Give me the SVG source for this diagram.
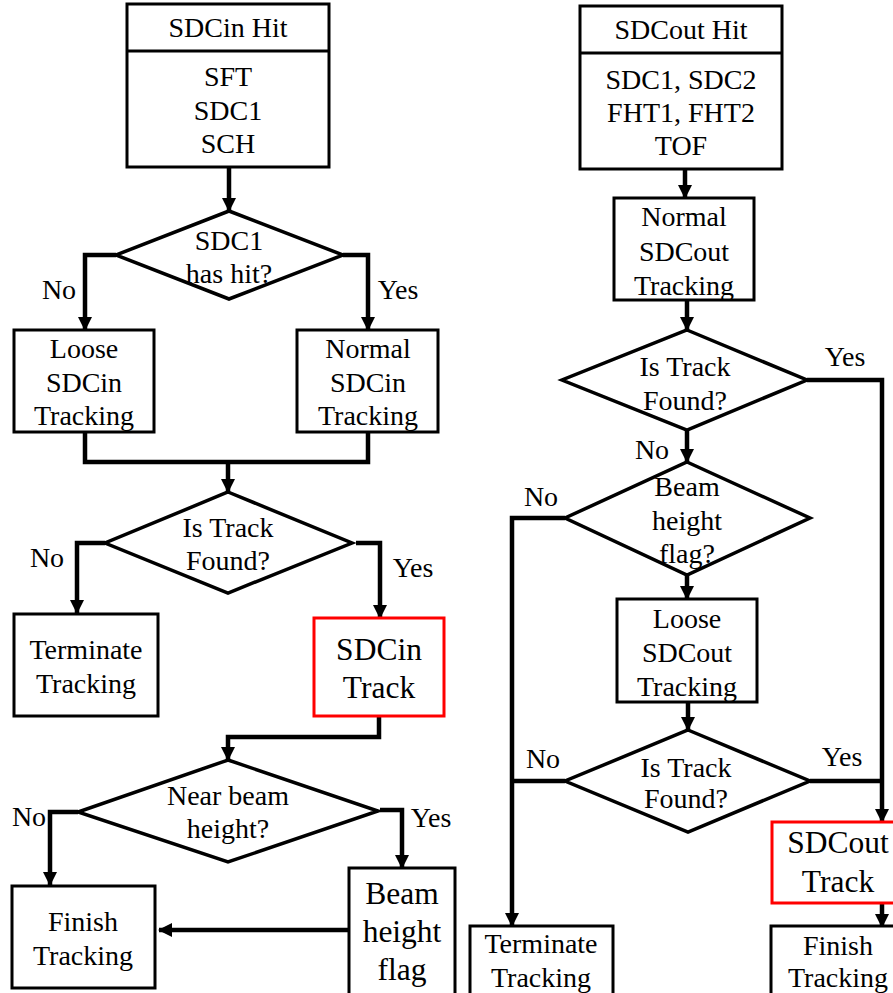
<svg xmlns="http://www.w3.org/2000/svg" width="893" height="993" viewBox="0 0 893 993" font-family="'Liberation Serif', 'Times New Roman', 'DejaVu Serif', serif">
<defs>
<marker id="ah" markerUnits="userSpaceOnUse" markerWidth="14" markerHeight="14" refX="13" refY="7" orient="auto"><path d="M0,0 L14,7 L0,14 z" fill="#000"/></marker>
<style>
.box{fill:#fff;stroke:#000;stroke-width:3}
.red{fill:#fff;stroke:#ff0000;stroke-width:3}
.dia{fill:#fff;stroke:#000;stroke-width:3.5}
.c{fill:none;stroke:#000;stroke-width:4.5}
.a{fill:none;stroke:#000;stroke-width:4.5;marker-end:url(#ah)}
text{font-family:'Liberation Serif','Times New Roman','DejaVu Serif',serif;font-size:28px;fill:#000;text-anchor:middle}
.big{font-size:31.5px}
</style>
</defs>
<rect width="893" height="993" fill="#fff"/>
<g id="connectors">
<path class="a" d="M229,167 L229,211"/>
<path class="a" d="M116,255 L85,255 L85,330"/>
<path class="a" d="M343,255 L368,255 L368,330"/>
<path class="c" d="M85,432 L85,462 L368,462 L368,432"/>
<path class="a" d="M228,462 L228,492"/>
<path class="a" d="M105,543 L77,543 L77,613"/>
<path class="a" d="M356,543 L380,543 L380,618"/>
<path class="a" d="M379,716 L379,737 L228,737 L228,760"/>
<path class="a" d="M78,812 L50,812 L50,885"/>
<path class="a" d="M380,810 L402,810 L402,868"/>
<path class="a" d="M349,930 L159,930"/>
<path class="a" d="M685,169 L685,198"/>
<path class="a" d="M687,300 L687,330"/>
<path class="a" d="M807,380 L882,380 L882,822"/>
<path class="a" d="M687,430 L687,462"/>
<path class="a" d="M565,518 L512,518 L512,926"/>
<path class="a" d="M687,575 L687,599"/>
<path class="a" d="M688,702 L688,730"/>
<path class="c" d="M565,781 L512,781"/>
<path class="c" d="M810,781 L882,781"/>
<path class="a" d="M882,903 L882,927"/>
</g>
<g id="labels">
<text x="59" y="299">No</text>
<text x="398" y="299">Yes</text>
<text x="47" y="567">No</text>
<text x="413" y="577">Yes</text>
<text x="29" y="826">No</text>
<text x="431" y="827">Yes</text>
<text x="845" y="366">Yes</text>
<text x="652" y="459">No</text>
<text x="541" y="506">No</text>
<text x="543" y="768">No</text>
<text x="842" y="766">Yes</text>
</g>
<g id="sdcin-hit">
<rect class="box" x="127" y="4" width="202" height="163"/>
<line x1="127" y1="51" x2="329" y2="51" stroke="#000" stroke-width="3"/>
<text x="228" y="37">SDCin Hit</text>
<text x="228" y="86">SFT</text>
<text x="228" y="120">SDC1</text>
<text x="228" y="153">SCH</text>
</g>
<g id="sdc1-has-hit">
<polygon class="dia" points="229,211 343,255 229,299 116,255"/>
<text x="229" y="250">SDC1</text>
<text x="229" y="283">has hit?</text>
</g>
<g id="loose-sdcin">
<rect class="box" x="14" y="330" width="140" height="102"/>
<text x="84" y="358">Loose</text>
<text x="84" y="392">SDCin</text>
<text x="84" y="425">Tracking</text>
</g>
<g id="normal-sdcin">
<rect class="box" x="297" y="330" width="141" height="102"/>
<text x="368" y="358">Normal</text>
<text x="368" y="392">SDCin</text>
<text x="368" y="425">Tracking</text>
</g>
<g id="is-track-found-1">
<polygon class="dia" points="228,492 352,543 228,593 105,543"/>
<text x="228" y="537">Is Track</text>
<text x="228" y="570">Found?</text>
</g>
<g id="terminate-1">
<rect class="box" x="14" y="614" width="144" height="102"/>
<text x="86" y="659">Terminate</text>
<text x="86" y="693">Tracking</text>
</g>
<g id="sdcin-track">
<rect class="red" x="314" y="618" width="130" height="98"/>
<text class="big" x="379" y="660">SDCin</text>
<text class="big" x="379" y="698">Track</text>
</g>
<g id="near-beam">
<polygon class="dia" points="228,760 378,811 228,862 78,812"/>
<text x="228" y="805">Near beam</text>
<text x="228" y="838">height?</text>
</g>
<g id="finish-1">
<rect class="box" x="12" y="886" width="143" height="102"/>
<text x="83" y="931">Finish</text>
<text x="83" y="965">Tracking</text>
</g>
<g id="beam-flag">
<rect class="box" x="349" y="868" width="106" height="130"/>
<text class="big" x="402" y="904">Beam</text>
<text class="big" x="402" y="942">height</text>
<text class="big" x="402" y="980">flag</text>
</g>
<g id="sdcout-hit">
<rect class="box" x="580" y="6" width="202" height="163"/>
<line x1="580" y1="53" x2="782" y2="53" stroke="#000" stroke-width="3"/>
<text x="681" y="39">SDCout Hit</text>
<text x="681" y="89">SDC1, SDC2</text>
<text x="681" y="122">FHT1, FHT2</text>
<text x="681" y="155">TOF</text>
</g>
<g id="normal-sdcout">
<rect class="box" x="614" y="198" width="140" height="102"/>
<text x="684" y="226">Normal</text>
<text x="684" y="261">SDCout</text>
<text x="684" y="295">Tracking</text>
</g>
<g id="is-track-found-2">
<polygon class="dia" points="687,330 807,380 687,430 562,380"/>
<text x="685" y="376">Is Track</text>
<text x="685" y="410">Found?</text>
</g>
<g id="beam-flag-q">
<polygon class="dia" points="687,462 810,518 687,575 565,518"/>
<text x="687" y="496">Beam</text>
<text x="687" y="530">height</text>
<text x="687" y="563">flag?</text>
</g>
<g id="loose-sdcout">
<rect class="box" x="617" y="599" width="140" height="103"/>
<text x="687" y="628">Loose</text>
<text x="687" y="662">SDCout</text>
<text x="687" y="696">Tracking</text>
</g>
<g id="is-track-found-3">
<polygon class="dia" points="688,730 810,781 688,832 565,781"/>
<text x="686" y="777">Is Track</text>
<text x="686" y="808">Found?</text>
</g>
<g id="sdcout-track">
<rect class="red" x="772" y="822" width="130" height="81"/>
<text class="big" x="838" y="853">SDCout</text>
<text class="big" x="838" y="892">Track</text>
</g>
<g id="terminate-2">
<rect class="box" x="470" y="926" width="143" height="75"/>
<text x="541" y="953">Terminate</text>
<text x="541" y="987">Tracking</text>
</g>
<g id="finish-2">
<rect class="box" x="771" y="926" width="130" height="75"/>
<text x="838" y="955">Finish</text>
<text x="838" y="987">Tracking</text>
</g>
</svg>
